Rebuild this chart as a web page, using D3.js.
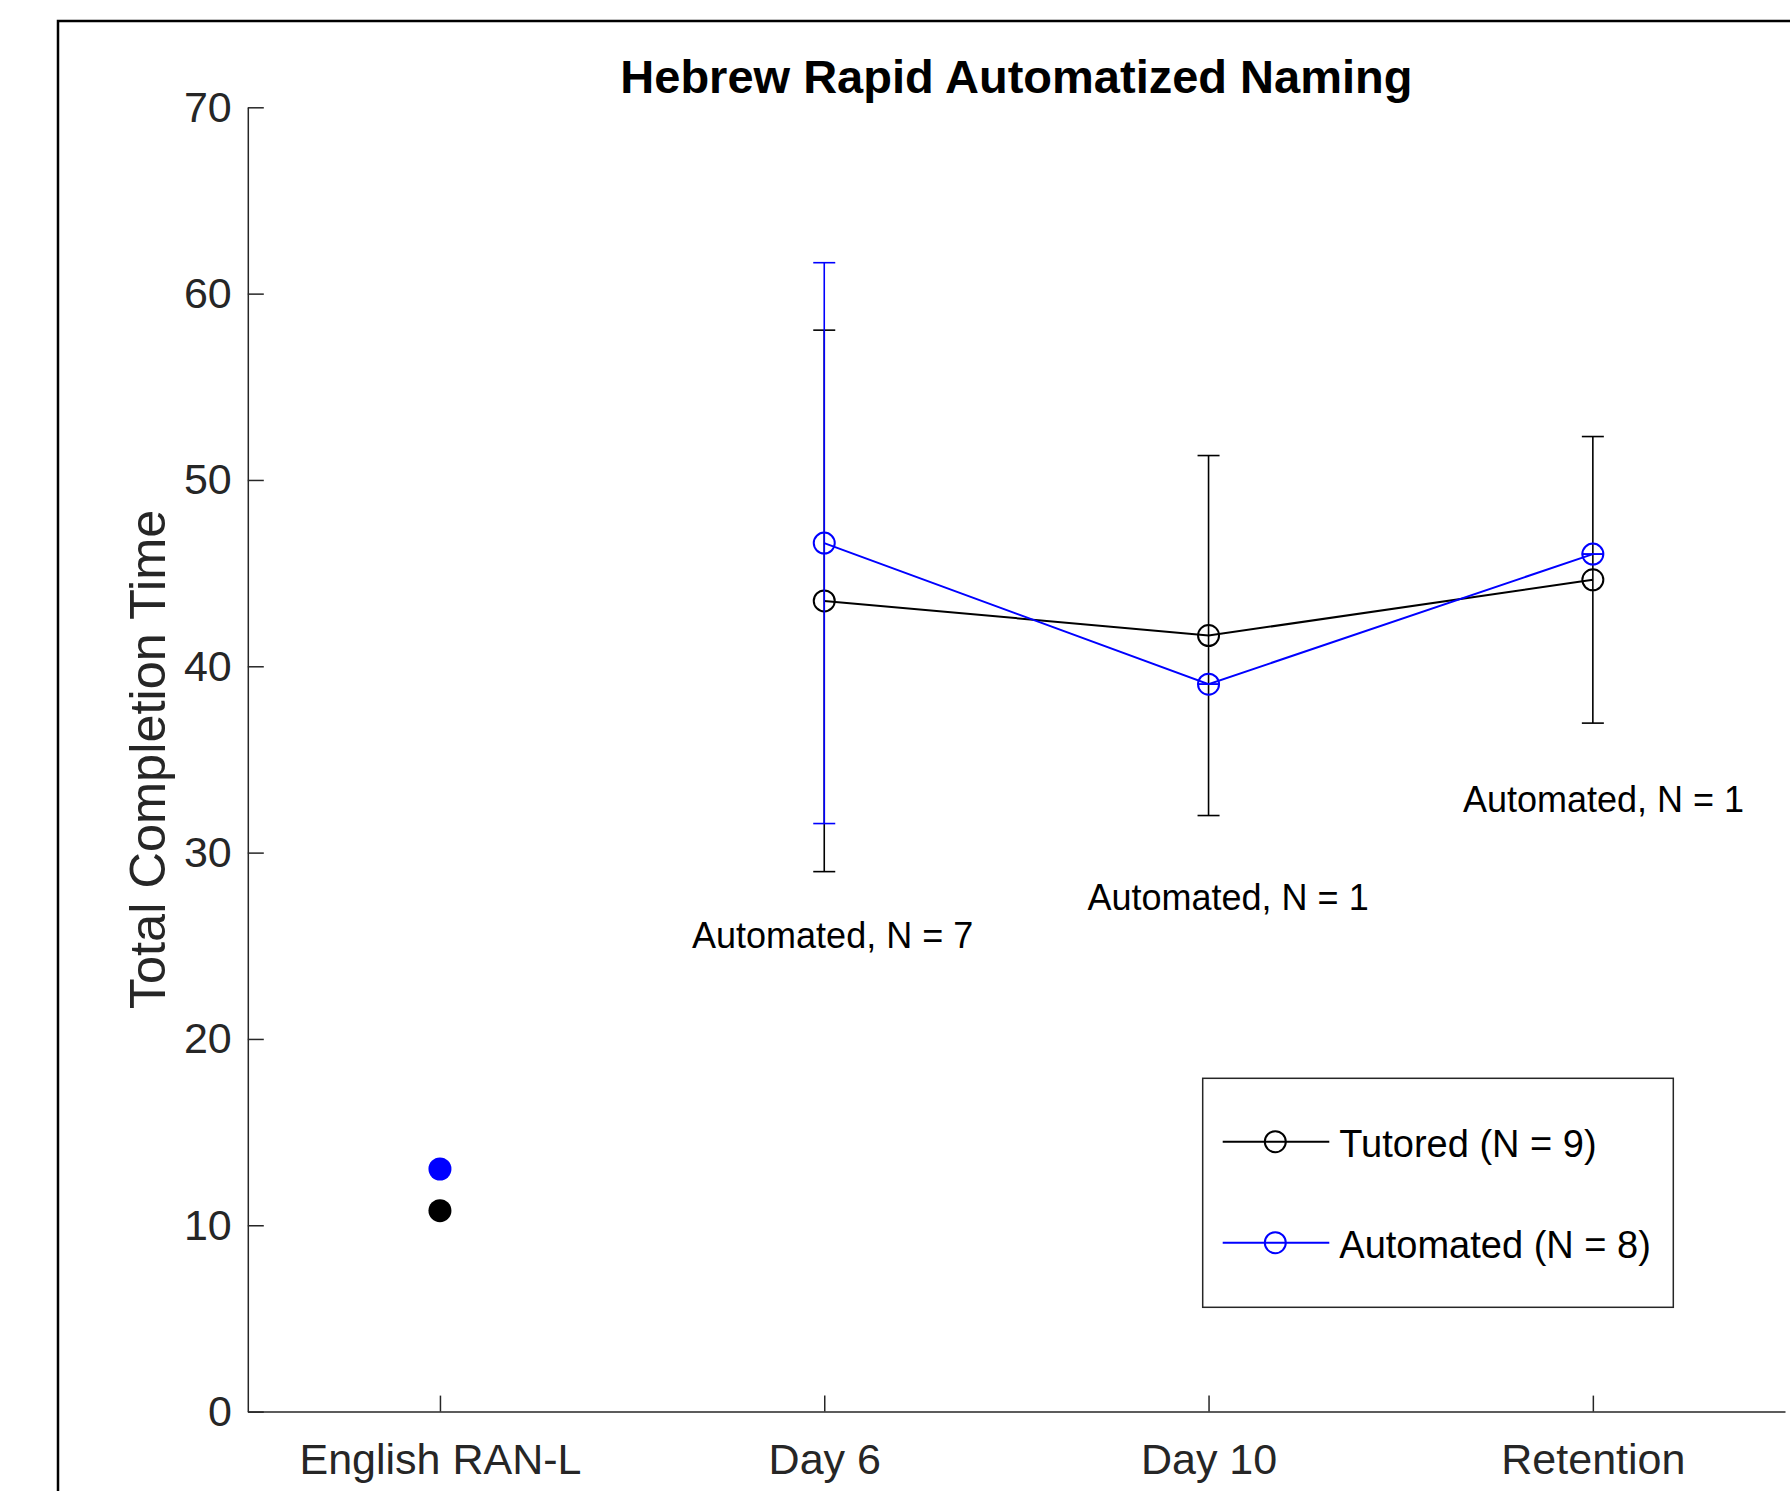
<!DOCTYPE html>
<html>
<head>
<meta charset="utf-8">
<script src="https://cdn.jsdelivr.net/npm/d3@7"></script>
<style>
  html, body { margin: 0; padding: 0; background: #fff; }
  svg { display: block; font-family: "Liberation Sans", Arial, Helvetica, sans-serif; }
</style>
</head>
<body>
<svg id="chart" width="1790" height="1491"></svg>
<script>
// ---------------- data ----------------
const categories = ["English RAN-L", "Day 6", "Day 10", "Retention"];
const yTicks = [0, 10, 20, 30, 40, 50, 60, 70];

// English RAN-L baseline (single filled points)
const englishTutored = 10.78;
const englishAutomated = 13.02;

// Hebrew RAN sessions (Day 6, Day 10, Retention)
const sessionCats = ["Day 6", "Day 10", "Retention"];
const tutoredMean = [43.51, 41.65, 44.64];
const tutoredSD   = [14.53, 9.66, 7.69];
const automatedMean = [46.61, 39.04, 46.02];
const automatedSD   = [15.05, 0, 0];

// annotations (x in category units, y in data units = baseline)
const annoText = ["Automated, N = 7", "Automated, N = 1", "Automated, N = 1"];
const annoX = [1.656, 2.685, 3.662];
const annoY = [24.90, 26.92, 32.17];

const legendLabels = ["Tutored (N = 9)", "Automated (N = 8)"];
const seriesColors = ["#000000", "#0000ff"];

const titleText = "Hebrew Rapid Automatized Naming";
const yLabelText = "Total Completion Time";

// ---------------- layout ----------------
const svg = d3.select("#chart");
const axisColor = "#262626";

const x = d3.scaleLinear().domain([0.5, 4.5]).range([247.8, 1785]);
const y = d3.scaleLinear().domain([0, 70]).range([1411.6, 107.3]);
const xPos = c => x(categories.indexOf(c) + 1);

// outer frame
svg.append("path")
  .attr("d", "M58,1491 V21 H1790")
  .attr("fill", "none")
  .attr("stroke", "#000")
  .attr("stroke-width", 2.5);

// y axis
const yAxis = d3.axisLeft(y).tickValues(yTicks).tickSizeInner(-16).tickSizeOuter(0).tickPadding(16);
const gy = svg.append("g").attr("transform", `translate(${x.range()[0]},0)`).call(yAxis);
gy.select(".domain").attr("stroke", axisColor).attr("stroke-width", 1.5);
gy.selectAll(".tick line").attr("stroke", axisColor).attr("stroke-width", 1.5);
gy.selectAll(".tick text").attr("fill", axisColor).attr("font-size", 43).attr("font-family", null);

// x axis
const xAxis = d3.axisBottom(x).tickValues([1, 2, 3, 4]).tickFormat(d => categories[d - 1])
  .tickSizeInner(-16).tickSizeOuter(0).tickPadding(16);
const gx = svg.append("g").attr("transform", `translate(0,${y(0)})`).call(xAxis);
gx.select(".domain").attr("stroke", axisColor).attr("stroke-width", 1.5);
gx.selectAll(".tick line").attr("stroke", axisColor).attr("stroke-width", 1.5);
gx.selectAll(".tick text").attr("fill", axisColor).attr("font-size", 43).attr("font-family", null)
  .attr("dy", null).attr("y", 62);

// title
svg.append("text")
  .attr("x", (x.range()[0] + x.range()[1]) / 2).attr("y", 93)
  .attr("text-anchor", "middle").attr("font-weight", "bold").attr("font-size", 47)
  .attr("fill", "#000").text(titleText);

// y label
svg.append("text")
  .attr("transform", `translate(165,${(y(0) + y(70)) / 2}) rotate(-90)`)
  .attr("text-anchor", "middle").attr("font-size", 50.5).attr("fill", axisColor)
  .text(yLabelText);

// series
const series = [
  { mean: tutoredMean, sd: tutoredSD, color: seriesColors[0] },
  { mean: automatedMean, sd: automatedSD, color: seriesColors[1] }
];
const line = d3.line().x((d, i) => xPos(sessionCats[i])).y(d => y(d));

series.forEach(s => {
  const g = svg.append("g");
  // error bars
  s.mean.forEach((m, i) => {
    const cx = xPos(sessionCats[i]);
    const lo = y(m - s.sd[i]), hi = y(m + s.sd[i]);
    g.append("line").attr("x1", cx).attr("x2", cx).attr("y1", lo).attr("y2", hi)
      .attr("stroke", s.color).attr("stroke-width", 1.6);
    [lo, hi].forEach(v => {
      g.append("line").attr("x1", cx - 11).attr("x2", cx + 11).attr("y1", v).attr("y2", v)
        .attr("stroke", s.color).attr("stroke-width", 1.6);
    });
  });
  // connecting line
  g.append("path").datum(s.mean).attr("d", line)
    .attr("fill", "none").attr("stroke", s.color).attr("stroke-width", 2);
  // markers
  g.selectAll("circle.m").data(s.mean).enter().append("circle")
    .attr("cx", (d, i) => xPos(sessionCats[i])).attr("cy", d => y(d)).attr("r", 10.5)
    .attr("fill", "none").attr("stroke", s.color).attr("stroke-width", 2);
});

// English RAN-L filled points
[[englishAutomated, seriesColors[1]], [englishTutored, seriesColors[0]]].forEach(([v, c]) => {
  svg.append("circle").attr("cx", xPos("English RAN-L")).attr("cy", y(v)).attr("r", 11.5).attr("fill", c);
});

// annotations
annoText.forEach((t, i) => {
  svg.append("text").attr("x", x(annoX[i])).attr("y", y(annoY[i]))
    .attr("font-size", 36).attr("fill", "#000").text(t);
});

// legend
const lg = svg.append("g");
lg.append("rect").attr("x", 1202.7).attr("y", 1078.3).attr("width", 470.6).attr("height", 229)
  .attr("fill", "#fff").attr("stroke", axisColor).attr("stroke-width", 1.5);
legendLabels.forEach((lab, i) => {
  const ly = 1141.7 + i * 101;
  lg.append("line").attr("x1", 1222.7).attr("x2", 1329.3).attr("y1", ly).attr("y2", ly)
    .attr("stroke", seriesColors[i]).attr("stroke-width", 2);
  lg.append("circle").attr("cx", 1275.3).attr("cy", ly).attr("r", 10.5)
    .attr("fill", "none").attr("stroke", seriesColors[i]).attr("stroke-width", 2);
  lg.append("text").attr("x", 1339.3).attr("y", ly + 15.5).attr("font-size", 38)
    .attr("fill", "#000").text(lab);
});
</script>
</body>
</html>
